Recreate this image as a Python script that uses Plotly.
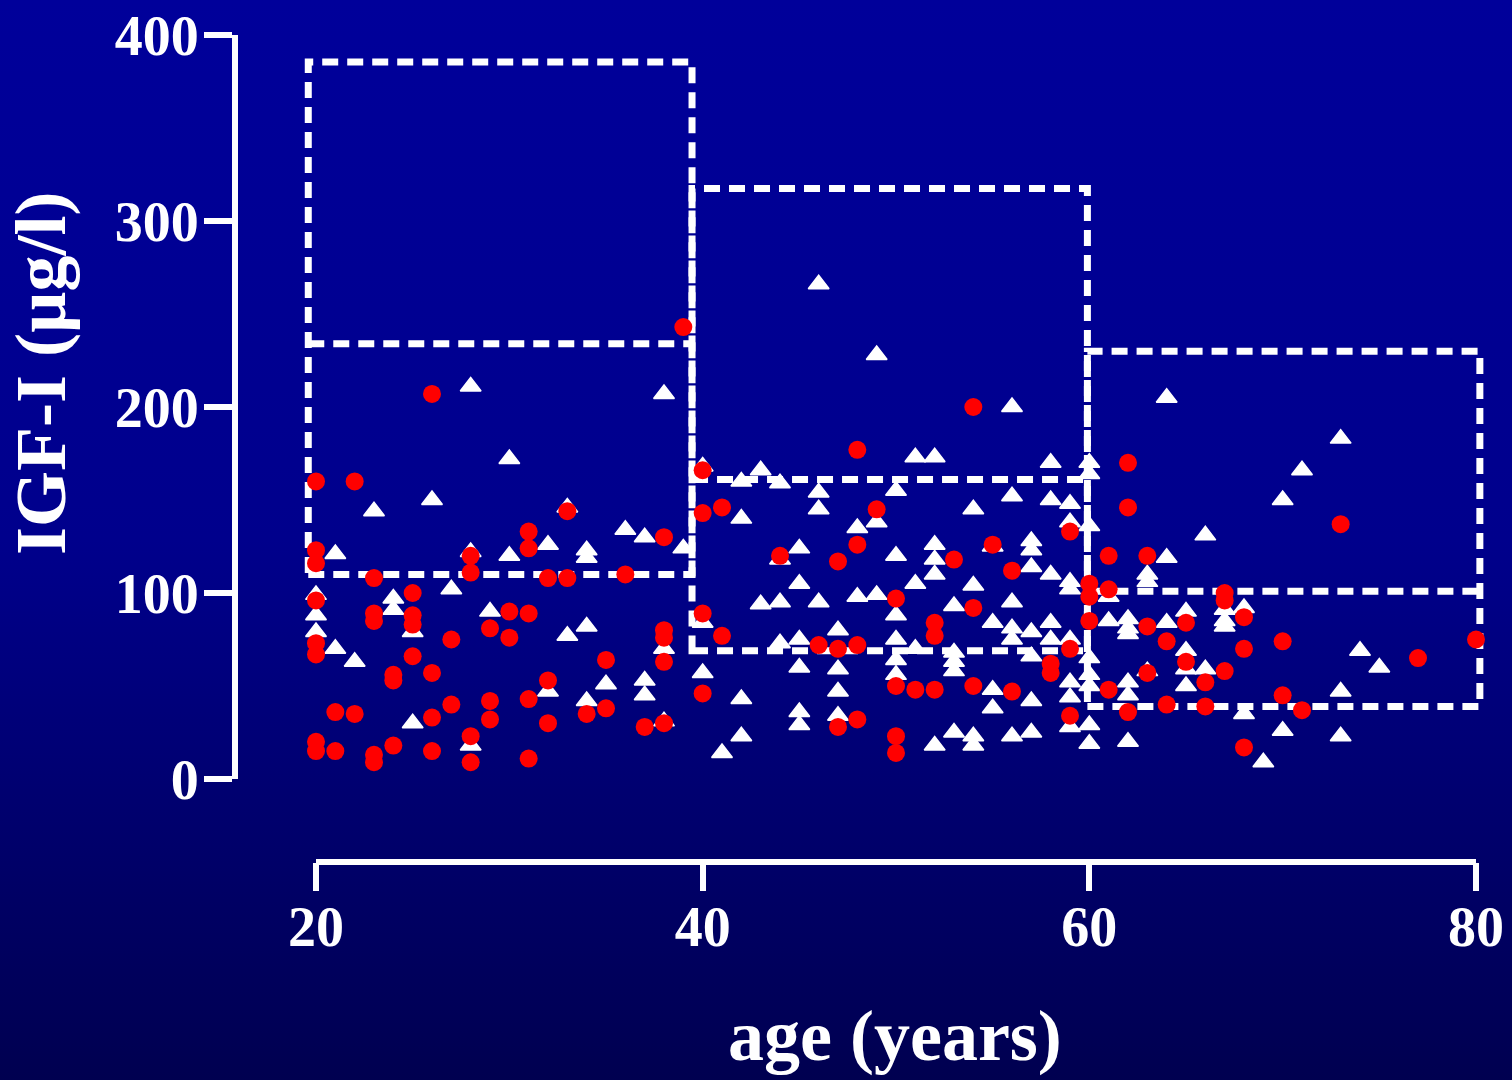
import base64
import plotly.graph_objects as go

# IGF-I measurements: red circles (group A) and white triangles (group B)
red_age = [20, 20, 20, 20, 20, 20, 20, 20, 21, 21, 22, 22, 23, 23, 23, 23, 23,
           24, 24, 24, 25, 25, 25, 25, 26, 26, 26, 26, 27, 27, 28, 28, 28, 28,
           29, 29, 29, 30, 30, 31, 31, 31, 31, 31, 32, 32, 32, 33, 33, 34, 35, 35,
           36, 37, 38, 38, 38, 38, 38, 39, 40, 40, 40, 40, 41, 41, 44, 46, 47, 47,
           47, 48, 48, 48, 48, 49, 50, 50, 50, 50, 51, 52, 52, 52, 53, 54, 54, 54,
           55, 56, 56, 58, 58, 59, 59, 59, 60, 60, 60, 61, 61, 61, 62, 62, 62,
           63, 63, 63, 64, 64, 65, 65, 66, 66, 67, 67, 67, 68, 68, 68, 70, 70,
           71, 73, 77, 80]
red_igf = [160, 123, 116, 96, 73, 67, 20, 15, 36, 15, 160, 35, 108, 89, 85, 13, 9,
           56, 53, 18, 100, 88, 83, 66, 207, 57, 33, 15, 75, 40, 120, 111, 23, 9,
           81, 42, 32, 90, 76, 133, 124, 89, 43, 11, 108, 53, 30, 144, 108, 35, 64, 38,
           110, 28, 130, 80, 76, 63, 30, 243, 166, 143, 89, 46, 146, 77, 120, 72, 117, 70,
           28, 177, 126, 72, 32, 145, 97, 50, 23, 14, 48, 84, 77, 48, 118, 200, 92, 50,
           126, 112, 47, 62, 57, 133, 70, 34, 105, 98, 85, 120, 102, 48, 170, 146, 36,
           120, 82, 57, 74, 40, 84, 63, 52, 39, 100, 96, 58, 87, 70, 17, 74, 45,
           37, 137, 65, 75]

tri_age = [20, 20, 20, 21, 21, 22, 23, 24, 24, 25, 25, 26, 27, 28, 28, 28, 29,
           30, 30, 32, 32, 33, 33, 34, 34, 34, 34, 35, 36, 37, 37, 37, 38, 38, 38,
           39, 40, 40, 40, 41, 42, 42, 42, 42, 43, 43, 44, 44, 44, 44,
           45, 45, 45, 45, 45, 45, 46, 46, 46, 46, 47, 47, 47, 47, 48, 48,
           49, 49, 49, 50, 50, 50, 50, 50, 50, 51, 51, 51, 52, 52, 52, 52, 52,
           53, 53, 53, 53, 53, 54, 54, 54, 54, 55, 55, 55, 55,
           56, 56, 56, 56, 56, 56, 57, 57, 57, 57, 57, 57, 57, 58, 58, 58, 58, 58,
           59, 59, 59, 59, 59, 59, 59, 59, 60, 60, 60, 60, 60, 60, 60, 60,
           61, 61, 62, 62, 62, 62, 62, 62, 63, 63, 63, 64, 64, 64, 65, 65, 65, 65,
           66, 66, 67, 67, 67, 68, 68, 69, 70, 70, 71, 73, 73, 73, 74, 75]
tri_igf = [99, 88, 79, 121, 70, 63, 144, 97, 91, 79, 30, 150, 102, 211, 122, 18, 90,
           172, 120, 126, 47, 146, 77, 123, 119, 82, 42, 51, 134, 130, 53, 45, 207, 70, 31,
           124, 168, 84, 57, 14, 160, 140, 43, 23, 166, 94, 159, 118, 95, 73,
           124, 105, 75, 60, 36, 29, 266, 154, 145, 95, 80, 59, 47, 34, 135, 98,
           228, 138, 99, 155, 120, 88, 75, 64, 56, 173, 105, 70, 173, 126, 118, 110, 18,
           93, 68, 63, 58, 25, 145, 104, 23, 18, 125, 84, 48, 38,
           200, 152, 95, 81, 75, 23, 128, 123, 114, 79, 66, 42, 25, 170, 150, 110, 84, 75,
           148, 138, 106, 102, 75, 52, 44, 28, 170, 164, 136, 65, 56, 50, 29, 19,
           98, 85, 86, 81, 78, 52, 45, 20, 110, 106, 58, 205, 119, 84, 90, 69, 59, 50,
           131, 59, 91, 85, 82, 92, 35, 9, 150, 26, 166, 183, 47, 23, 69, 60]

# Age-band reference ranges (dashed boxes): lower limit, median, upper limit
band_start = [19.6, 39.45, 59.9]
band_end = [39.45, 59.9, 80.2]
band_lower = [110, 69, 39]
band_mid = [234, 161, 101]
band_upper = [385.5, 317.5, 230]

x_ticks = [20, 40, 60, 80]
y_ticks = [0, 100, 200, 300, 400]
x_title = "age (years)"
y_title = "IGF-I (µg/l)"

FONT = "Liberation Serif, Times New Roman, serif"
WHITE = "#ffffff"
AXIS_W = 6

fig = go.Figure()

fig.add_trace(go.Scatter(
    x=tri_age, y=tri_igf, mode="markers", cliponaxis=False, showlegend=False,
    marker=dict(symbol="triangle-up", size=18, color=WHITE,
                line=dict(color=WHITE, width=1.5)),
))
fig.add_trace(go.Scatter(
    x=red_age, y=red_igf, mode="markers", cliponaxis=False, showlegend=False,
    marker=dict(symbol="circle", size=18, color="#ff0000", line=dict(width=0)),
))

# dashed reference boxes with median line
dash_line = dict(color=WHITE, width=7, dash="16px,9px")
for x0, x1, lo, mid, hi in zip(band_start, band_end, band_lower, band_mid, band_upper):
    fig.add_shape(type="rect", xref="x", yref="y", x0=x0, x1=x1, y0=lo, y1=hi,
                  line=dash_line, layer="below")
    fig.add_shape(type="line", xref="x", yref="y", x0=x0, x1=x1, y0=mid, y1=mid,
                  line=dash_line, layer="below")

# offset x-axis line spanning the labelled ages
X_AXIS_POS = 1 - 862 / 1080
fig.add_shape(type="line", xref="x", yref="paper", x0=x_ticks[0], x1=x_ticks[-1],
              y0=X_AXIS_POS, y1=X_AXIS_POS, line=dict(color=WHITE, width=AXIS_W),
              layer="above")

# vertical blue gradient background
svg = ('<svg xmlns="http://www.w3.org/2000/svg" width="1512" height="1080" '
       'preserveAspectRatio="none"><defs><linearGradient id="g" x1="0" y1="0" '
       'x2="0" y2="1"><stop offset="0" stop-color="#00009a"/>'
       '<stop offset="0.5" stop-color="#00008c"/>'
       '<stop offset="1" stop-color="#000050"/></linearGradient></defs>'
       '<rect width="1512" height="1080" fill="url(#g)"/></svg>')
bg_src = "data:image/svg+xml;base64," + base64.b64encode(svg.encode()).decode()

tick_font = dict(family=FONT, size=56, color=WHITE, weight="bold")
title_font = dict(family=FONT, size=72, color=WHITE, weight="bold")

fig.update_layout(
    width=1512, height=1080,
    margin=dict(l=0, r=0, t=0, b=0, pad=0),
    paper_bgcolor="#000080",
    plot_bgcolor="rgba(0,0,0,0)",
    images=[dict(source=bg_src, xref="paper", yref="paper", x=0, y=1,
                 sizex=1, sizey=1, sizing="stretch", xanchor="left",
                 yanchor="top", layer="below")],
    xaxis=dict(
        range=[19, 81], domain=[296.67 / 1512, 1495.33 / 1512],
        anchor="free", position=X_AXIS_POS,
        showline=False, showgrid=False, zeroline=False,
        tickmode="array", tickvals=x_ticks, ticktext=[str(v) for v in x_ticks],
        ticks="outside", ticklen=28, tickwidth=AXIS_W, tickcolor=WHITE,
        tickfont=tick_font, ticklabelstandoff=-12, automargin=False,
    ),
    yaxis=dict(
        range=[0, 400], domain=[1 - 779 / 1080, 1 - 35 / 1080],
        anchor="free", position=235 / 1512,
        showline=True, linewidth=AXIS_W, linecolor=WHITE,
        showgrid=False, zeroline=False,
        tickmode="array", tickvals=y_ticks, ticktext=[str(v) for v in y_ticks],
        ticks="outside", ticklen=28, tickwidth=AXIS_W, tickcolor=WHITE,
        tickfont=tick_font, ticklabelstandoff=-6, automargin=False,
    ),
    annotations=[
        dict(text=y_title, xref="paper", yref="paper", x=41 / 1512, y=1 - 374 / 1080,
             xanchor="center", yanchor="middle", textangle=-90, showarrow=False,
             font=title_font),
        dict(text=x_title, xref="paper", yref="paper", x=895 / 1512, y=1 - 1036 / 1080,
             xanchor="center", yanchor="middle", showarrow=False, font=title_font),
    ],
)

fig.write_html("out.html")
